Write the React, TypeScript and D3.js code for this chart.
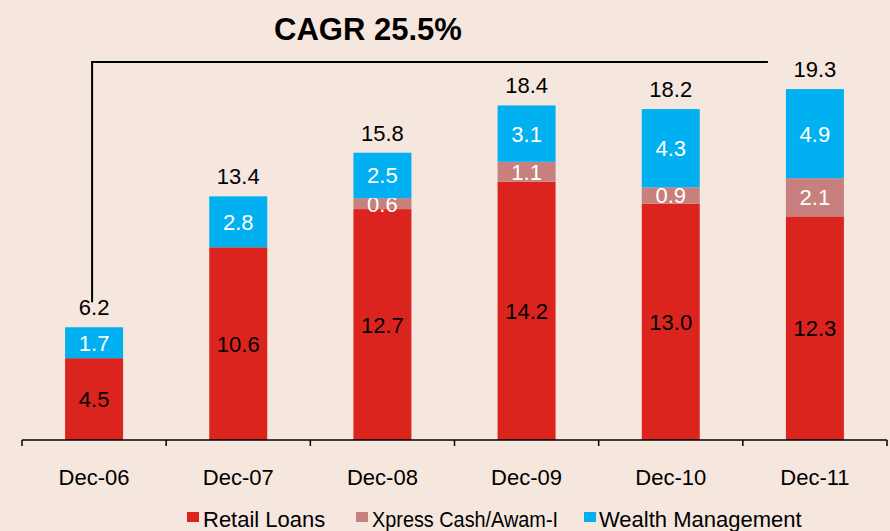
import React from 'react';
import * as d3 from 'd3';

const categories = ['Dec-06', 'Dec-07', 'Dec-08', 'Dec-09', 'Dec-10', 'Dec-11'];
const retailLoans = [4.5, 10.6, 12.7, 14.2, 13.0, 12.3];
const xpressCash = [0, 0, 0.6, 1.1, 0.9, 2.1];
const wealthMgmt = [1.7, 2.8, 2.5, 3.1, 4.3, 4.9];
const totals = [6.2, 13.4, 15.8, 18.4, 18.2, 19.3];

const seriesNames = ['Retail Loans', 'Xpress Cash/Awam-I', 'Wealth Management'];
const seriesColors = ['#DC241F', '#C7807E', '#00B0F0'];
const labelColors = ['#000', '#fff', '#fff'];

const width = 890;
const height = 531;
const font = 'Arial, "Liberation Sans", sans-serif';

export default function App() {
  const x = d3.scaleBand<string>().domain(categories).range([22, 887]).paddingInner(0).paddingOuter(0);
  const y = d3.scaleLinear().domain([0, 22]).range([440, 40]);
  const barW = 58;

  const rows = categories.map((c, i) => ({
    cat: c,
    retail: retailLoans[i],
    xpress: xpressCash[i],
    wealth: wealthMgmt[i],
  }));
  const stack = d3.stack<(typeof rows)[number]>().keys(['retail', 'xpress', 'wealth']);
  const layers = stack(rows);

  const ticks = [...categories.map((c) => x(c) as number), x.range()[1]];
  const firstX = (x(categories[0]) as number) + x.bandwidth() / 2;
  const lastX = (x(categories[5]) as number) + x.bandwidth() / 2;

  return (
    <svg
      width={width}
      height={height}
      style={{ position: 'absolute', left: 0, top: 0, background: '#F5E6DE' }}
      fontFamily={font}
    >
      <rect width={width} height={height} fill="#F5E6DE" />

      {layers.map((layer, li) => (
        <g key={li}>
          {layer.map((d, i) => {
            const v = d[1] - d[0];
            if (v <= 0) return null;
            const cx = (x(categories[i]) as number) + x.bandwidth() / 2;
            const y0 = y(d[0]);
            const y1 = y(d[1]);
            return (
              <g key={i}>
                <rect x={cx - barW / 2} y={y1} width={barW} height={y0 - y1} fill={seriesColors[li]} />
                <text
                  x={cx}
                  y={(y0 + y1) / 2 + 8}
                  textAnchor="middle"
                  fontSize={22}
                  fill={labelColors[li]}
                >
                  {v.toFixed(1)}
                </text>
              </g>
            );
          })}
        </g>
      ))}

      {totals.map((t, i) => {
        const cx = (x(categories[i]) as number) + x.bandwidth() / 2;
        return (
          <text key={i} x={cx} y={y(t) - 12} textAnchor="middle" fontSize={22} fill="#000">
            {t.toFixed(1)}
          </text>
        );
      })}

      {/* CAGR bracket */}
      <path
        d={`M${firstX - 2},${y(totals[0]) - 25} V62 H${lastX - 47}`}
        fill="none"
        stroke="#000"
        strokeWidth={2}
      />
      <text x={368} y={40} textAnchor="middle" fontSize={31} fontWeight="bold" fill="#000">
        CAGR 25.5%
      </text>

      {/* x axis */}
      <line x1={x.range()[0]} x2={x.range()[1]} y1={440} y2={440} stroke="#000" strokeWidth={1.5} />
      {ticks.map((t, i) => (
        <line key={i} x1={t} x2={t} y1={440} y2={446} stroke="#000" strokeWidth={1.5} />
      ))}
      {categories.map((c) => (
        <text
          key={c}
          x={(x(c) as number) + x.bandwidth() / 2}
          y={485}
          textAnchor="middle"
          fontSize={22}
          fill="#000"
        >
          {c}
        </text>
      ))}

      {/* legend */}
      {[
        { x: 187, tx: 203, len: undefined },
        { x: 356, tx: 372, len: 186 },
        { x: 584, tx: 599, len: undefined },
      ].map((p, i) => (
        <g key={i}>
          <rect x={p.x} y={512} width={12} height={10} fill={seriesColors[i]} />
          <text
            x={p.tx}
            y={527}
            fontSize={22}
            fill="#000"
            textLength={p.len}
            lengthAdjust={p.len ? 'spacingAndGlyphs' : undefined}
          >
            {seriesNames[i]}
          </text>
        </g>
      ))}
    </svg>
  );
}
